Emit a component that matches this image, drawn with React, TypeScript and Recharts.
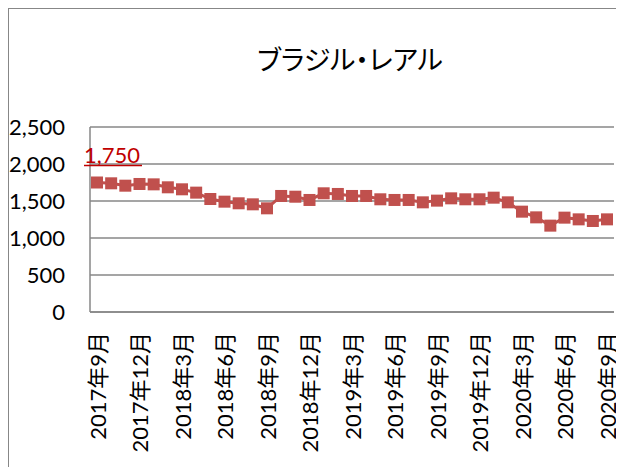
import React from 'react';
import { LineChart, Line, XAxis, YAxis, CartesianGrid } from 'recharts';

const months = [
  '2017年9月', '2017年10月', '2017年11月', '2017年12月', '2018年1月', '2018年2月',
  '2018年3月', '2018年4月', '2018年5月', '2018年6月', '2018年7月', '2018年8月',
  '2018年9月', '2018年10月', '2018年11月', '2018年12月', '2019年1月', '2019年2月',
  '2019年3月', '2019年4月', '2019年5月', '2019年6月', '2019年7月', '2019年8月',
  '2019年9月', '2019年10月', '2019年11月', '2019年12月', '2020年1月', '2020年2月',
  '2020年3月', '2020年4月', '2020年5月', '2020年6月', '2020年7月', '2020年8月',
  '2020年9月',
];

const brl = [
  1750, 1739, 1707, 1730, 1725, 1685, 1658, 1613, 1527, 1491, 1469, 1455,
  1401, 1568, 1558, 1514, 1604, 1595, 1568, 1568, 1523, 1514, 1514, 1482,
  1505, 1536, 1523, 1523, 1545, 1482, 1356, 1279, 1167, 1275, 1252, 1230,
  1252,
];

const yTicks = [0, 500, 1000, 1500, 2000, 2500];

const data = months.map((m, i) => ({ month: m, value: brl[i] }));

const FONT = "Lato, 'Noto Sans CJK JP', sans-serif";
const LINE = '#c0504d';
const GRID = '#878787';

const XTick = (props: any) => {
  const { x, y, payload } = props;
  return (
    <text
      x={x}
      y={y}
      transform={`rotate(-90 ${x} ${y})`}
      textAnchor="end"
      dominantBaseline="central"
      fontSize={22}
      fontFamily={FONT}
      fill="#000"
    >
      {payload.value}
    </text>
  );
};

// only the first point carries a data label
const FirstLabel = (props: any) => {
  const { x, y, index, value } = props;
  if (index !== 0) return null;
  return (
    <g>
      <text x={x - 13} y={y - 20} fontSize={22} fontFamily={FONT} fill="#c00000">
        {value.toLocaleString('en-US')}
      </text>
      <line x1={x - 13} x2={x + 45} y1={y - 17} y2={y - 17} stroke="#c00000" strokeWidth={1.5} />
    </g>
  );
};

const SquareDot = (props: any) => {
  const { cx, cy, index } = props;
  return <rect key={index} x={cx - 6} y={cy - 6} width={12} height={12} fill={LINE} />;
};

export default function App() {
  return (
    <div style={{ position: 'relative', width: 624, height: 475, margin: -8, overflow: 'hidden', background: '#fff' }}>
      <div
        style={{
          position: 'absolute', left: 0, top: 45, width: 700, textAlign: 'center',
          fontSize: 27, lineHeight: '30px', fontFamily: FONT, color: '#000',
          fontFeatureSettings: '"palt"',
        }}
      >
        ブラジル・レアル
      </div>
      <div style={{ position: 'absolute', left: 0, top: 0 }}>
        <LineChart width={624} height={475} data={data} margin={{ top: 127, right: 10, bottom: 0, left: 0 }}>
          <CartesianGrid vertical={false} stroke={GRID} strokeWidth={1.5} />
          <XAxis
            dataKey="month"
            interval={2}
            height={163}
            padding={{ left: 7, right: 7 }}
            tickLine={false}
            tickSize={0}
            tickMargin={20}
            axisLine={{ stroke: GRID, strokeWidth: 1.5 }}
            tick={<XTick />}
          />
          <YAxis
            width={90}
            domain={[0, 2500]}
            ticks={yTicks}
            tickLine={false}
            tickSize={0}
            tickMargin={25}
            axisLine={{ stroke: GRID, strokeWidth: 1.5 }}
            tick={{ fontSize: 22, fontFamily: FONT, fill: '#000' }}
            tickFormatter={(v: number) => v.toLocaleString('en-US')}
          />
          <Line
            dataKey="value"
            stroke={LINE}
            strokeWidth={3}
            dot={<SquareDot />}
            activeDot={false}
            label={<FirstLabel />}
            isAnimationActive={false}
          />
        </LineChart>
      </div>
      <div
        style={{
          position: 'absolute', left: 6, top: 6, width: 660, height: 500,
          borderTop: `3px solid ${GRID}`, borderLeft: `3px solid ${GRID}`,
          boxSizing: 'border-box', pointerEvents: 'none',
        }}
      />
    </div>
  );
}
